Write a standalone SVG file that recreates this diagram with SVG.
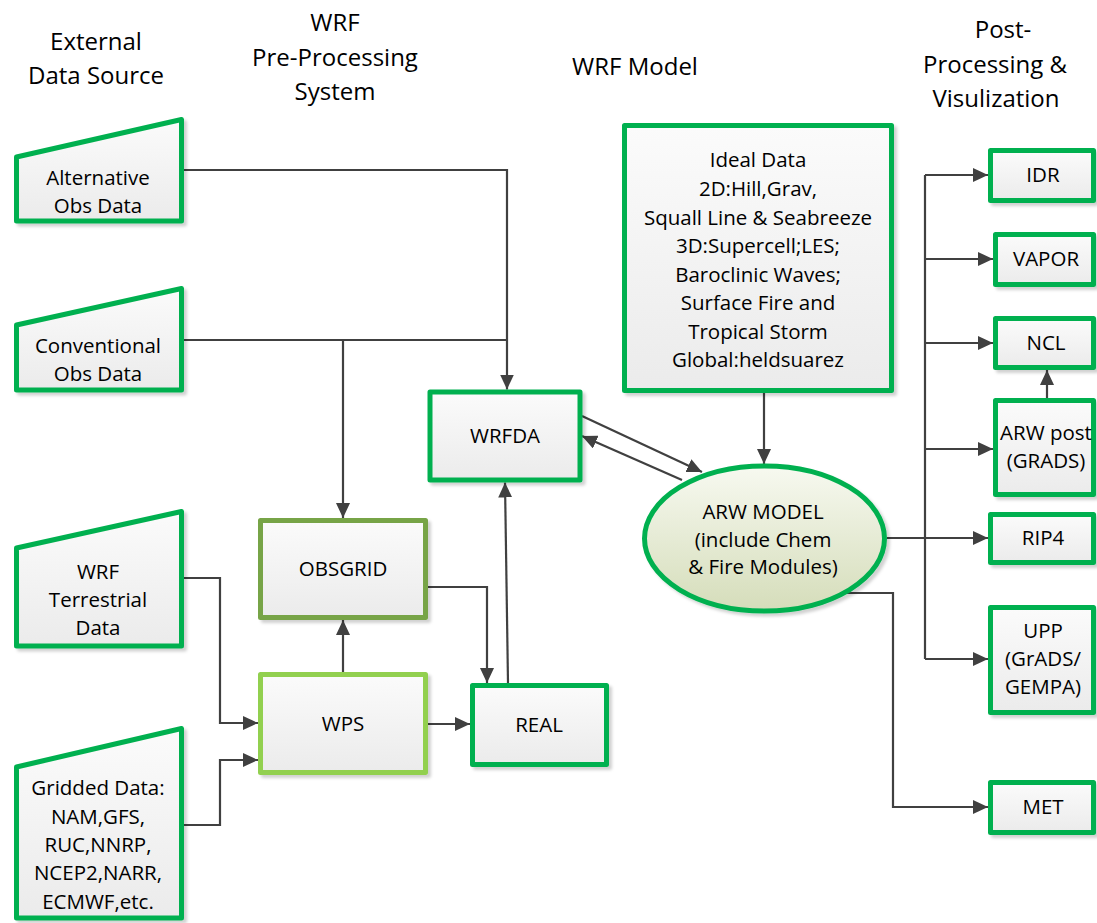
<svg xmlns="http://www.w3.org/2000/svg" width="1097" height="923" viewBox="0 0 1097 923">
<defs>
<linearGradient id="gBox" x1="0" y1="0" x2="0" y2="1">
<stop offset="0" stop-color="#fbfbfb"/>
<stop offset="1" stop-color="#ebebeb"/>
</linearGradient>
<linearGradient id="gEll" x1="0" y1="0" x2="0" y2="1">
<stop offset="0" stop-color="#f7f9f0"/>
<stop offset="1" stop-color="#d5ddba"/>
</linearGradient>
<filter id="sh" x="-10%" y="-10%" width="130%" height="130%">
<feDropShadow dx="3" dy="3" stdDeviation="1.5" flood-color="#000" flood-opacity="0.18"/>
</filter>
<marker id="arr" viewBox="0 0 15 14" refX="15" refY="7" markerWidth="15" markerHeight="14" markerUnits="userSpaceOnUse" orient="auto">
<path d="M0,0 L15,7 L0,14 Z" fill="#404040"/>
</marker>
</defs>
<style>
.node{fill:url(#gBox);stroke:#00b050;stroke-width:5;stroke-linejoin:round;filter:url(#sh)}
.obs{stroke:#77a446}
.wps{stroke:#92d050}
.ell{fill:url(#gEll);stroke:#00b050;stroke-width:5;filter:url(#sh)}
text{font-family:"Open Sans","Liberation Sans",sans-serif;fill:#000;text-anchor:middle}
.t{font-size:20.5px}
.h{font-size:24px}
.c{fill:none;stroke:#404040;stroke-width:2.2}
.a{marker-end:url(#arr)}
</style>
<rect width="1097" height="923" fill="#ffffff"/>

<g id="headers">
<text class="h" x="96" y="50">External</text>
<text class="h" x="96" y="84">Data Source</text>
<text class="h" x="335" y="31">WRF</text>
<text class="h" x="335" y="66">Pre-Processing</text>
<text class="h" x="335" y="100">System</text>
<text class="h" x="635" y="75">WRF Model</text>
<text class="h" x="1003" y="38">Post-</text>
<text class="h" x="995" y="73">Processing &amp;</text>
<text class="h" x="996" y="107">Visulization</text>
</g>

<g id="connectors">
<path class="c a" d="M184,170 H507 V389.5"/>
<path class="c" d="M184,340 H507"/>
<path class="c a" d="M343,340 V518"/>
<path class="c a" d="M184,578 H220 V723 H258"/>
<path class="c a" d="M184,825 H220 V760 H258"/>
<path class="c a" d="M343,672 V620"/>
<path class="c a" d="M428,724 H470"/>
<path class="c a" d="M428,587 H487 V683"/>
<path class="c a" d="M508,683 L505,482.5"/>
<path class="c a" d="M582,416 L702,472"/>
<path class="c a" d="M682,480 L582,436"/>
<path class="c a" d="M764,393 V464"/>
<path class="c a" d="M887,538 H988"/>
<path class="c" d="M925,175 V659"/>
<path class="c a" d="M925,175 H988"/>
<path class="c a" d="M925,259 H993"/>
<path class="c a" d="M925,343 H993"/>
<path class="c a" d="M925,449 H993"/>
<path class="c a" d="M925,659 H988"/>
<path class="c a" d="M842,593 H893 V807 H988"/>
<path class="c a" d="M1047,400 V370"/>
</g>

<g id="alt-obs">
<path class="node" d="M16.5,157 L181.5,119.5 V221 H16.5 Z"/>
<text class="t" x="98" y="185">Alternative</text>
<text class="t" x="98" y="213">Obs Data</text>
</g>
<g id="conv-obs">
<path class="node" d="M16.5,325 L181.5,288.5 V390 H16.5 Z"/>
<text class="t" x="98" y="353">Conventional</text>
<text class="t" x="98" y="381">Obs Data</text>
</g>
<g id="terrestrial">
<path class="node" d="M16.5,548 L181.5,511.5 V646 H16.5 Z"/>
<text class="t" x="98" y="579">WRF</text>
<text class="t" x="98" y="607">Terrestrial</text>
<text class="t" x="98" y="635">Data</text>
</g>
<g id="gridded">
<path class="node" d="M16.5,767 L181.5,728.5 V918 H16.5 Z"/>
<text class="t" x="98" y="795">Gridded Data:</text>
<text class="t" x="98" y="824">NAM,GFS,</text>
<text class="t" x="98" y="852">RUC,NNRP,</text>
<text class="t" x="98" y="880">NCEP2,NARR,</text>
<text class="t" x="98" y="909">ECMWF,etc.</text>
</g>

<g id="obsgrid">
<rect class="node obs" x="260.5" y="520.5" width="165" height="97"/>
<text class="t" x="343" y="576">OBSGRID</text>
</g>
<g id="wps">
<rect class="node wps" x="260.5" y="674.5" width="165" height="98"/>
<text class="t" x="343" y="731">WPS</text>
</g>
<g id="real">
<rect class="node" x="472.5" y="685.5" width="134" height="79"/>
<text class="t" x="539" y="732">REAL</text>
</g>
<g id="wrfda">
<rect class="node" x="430" y="392" width="150" height="88"/>
<text class="t" x="505" y="443">WRFDA</text>
</g>
<g id="ideal">
<rect class="node" x="624.5" y="125.5" width="267" height="265"/>
<text class="t" x="758" y="167">Ideal Data</text>
<text class="t" x="758" y="196">2D:Hill,Grav,</text>
<text class="t" x="758" y="225">Squall Line &amp; Seabreeze</text>
<text class="t" x="758" y="253">3D:Supercell;LES;</text>
<text class="t" x="758" y="282">Baroclinic Waves;</text>
<text class="t" x="758" y="310">Surface Fire and</text>
<text class="t" x="758" y="339">Tropical Storm</text>
<text class="t" x="758" y="367">Global:heldsuarez</text>
</g>
<g id="arw-model">
<ellipse class="ell" cx="764.5" cy="538.5" rx="120" ry="72.5"/>
<text class="t" x="763" y="519">ARW MODEL</text>
<text class="t" x="763" y="547">(include Chem</text>
<text class="t" x="763" y="574">&amp; Fire Modules)</text>
</g>
<g id="idr">
<rect class="node" x="990.5" y="150.5" width="103" height="50"/>
<text class="t" x="1043" y="182">IDR</text>
</g>
<g id="vapor">
<rect class="node" x="995.5" y="234.5" width="98" height="50"/>
<text class="t" x="1046" y="266">VAPOR</text>
</g>
<g id="ncl">
<rect class="node" x="995.5" y="318.5" width="98" height="49"/>
<text class="t" x="1046" y="350">NCL</text>
</g>
<g id="arw-post">
<rect class="node" x="995.5" y="400.5" width="98" height="94"/>
<text class="t" x="1046" y="440">ARW post</text>
<text class="t" x="1046" y="468">(GRADS)</text>
</g>
<g id="rip4">
<rect class="node" x="990.5" y="514.5" width="103" height="48"/>
<text class="t" x="1043" y="545">RIP4</text>
</g>
<g id="upp">
<rect class="node" x="990.5" y="607.5" width="103" height="105"/>
<text class="t" x="1043" y="638">UPP</text>
<text class="t" x="1043" y="666">(GrADS/</text>
<text class="t" x="1043" y="694">GEMPA)</text>
</g>
<g id="met">
<rect class="node" x="990.5" y="782.5" width="103" height="50"/>
<text class="t" x="1043" y="814">MET</text>
</g>
</svg>
